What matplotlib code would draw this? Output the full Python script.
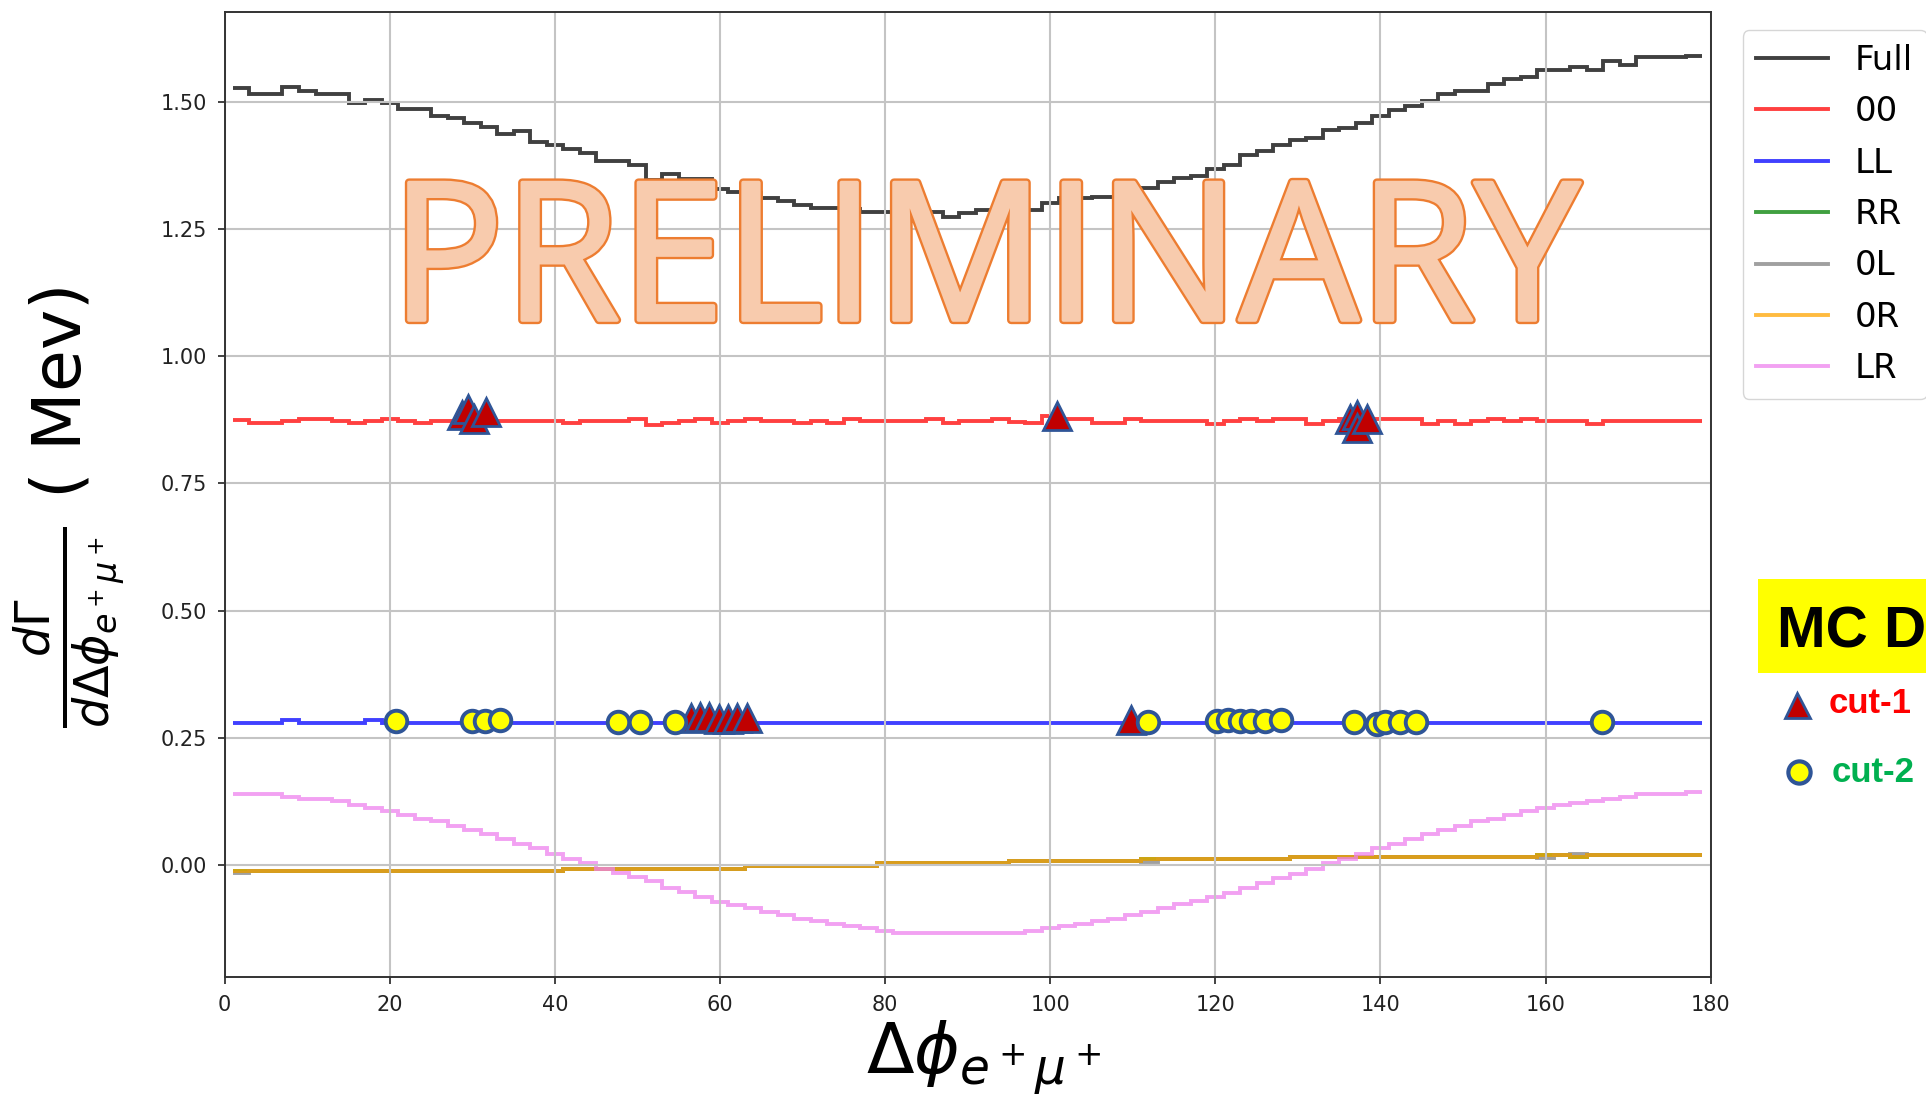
import numpy as np
import matplotlib.pyplot as plt
from matplotlib.lines import Line2D
from matplotlib.patches import PathPatch, Rectangle
from matplotlib.textpath import TextPath
from matplotlib.font_manager import FontProperties
from matplotlib.transforms import Affine2D

# --- histogram contents, one value per 2-degree bin from 1 to 179 ---
full = [1.527, 1.516, 1.516, 1.529, 1.520, 1.516, 1.516, 1.498, 1.503, 1.498,
        1.485, 1.485, 1.471, 1.467, 1.458, 1.450, 1.437, 1.442, 1.421, 1.415,
        1.407, 1.399, 1.384, 1.384, 1.376, 1.347, 1.358, 1.348, 1.348, 1.328,
        1.323, 1.320, 1.310, 1.305, 1.297, 1.292, 1.292, 1.290, 1.284, 1.284,
        1.284, 1.284, 1.283, 1.274, 1.282, 1.288, 1.288, 1.288, 1.288, 1.301,
        1.311, 1.311, 1.313, 1.313, 1.316, 1.330, 1.343, 1.349, 1.354, 1.367,
        1.375, 1.396, 1.403, 1.414, 1.424, 1.429, 1.444, 1.449, 1.459, 1.472,
        1.484, 1.492, 1.502, 1.516, 1.521, 1.521, 1.534, 1.545, 1.549, 1.563,
        1.563, 1.568, 1.563, 1.580, 1.572, 1.587, 1.587, 1.587, 1.590]

g00 = [0.875, 0.869, 0.869, 0.873, 0.877, 0.877, 0.873, 0.869, 0.873, 0.877,
       0.873, 0.869, 0.873, 0.873, 0.873, 0.873, 0.873, 0.873, 0.873, 0.873,
       0.869, 0.873, 0.873, 0.873, 0.877, 0.864, 0.869, 0.873, 0.877, 0.869,
       0.873, 0.877, 0.873, 0.873, 0.869, 0.873, 0.869, 0.877, 0.873, 0.873,
       0.873, 0.873, 0.877, 0.869, 0.873, 0.873, 0.877, 0.870, 0.868, 0.882,
       0.877, 0.877, 0.868, 0.868, 0.877, 0.872, 0.872, 0.872, 0.872, 0.867,
       0.872, 0.877, 0.872, 0.877, 0.877, 0.867, 0.872, 0.877, 0.877, 0.877,
       0.877, 0.877, 0.867, 0.872, 0.867, 0.872, 0.877, 0.872, 0.877, 0.872,
       0.872, 0.872, 0.867, 0.872, 0.872, 0.872, 0.872, 0.872, 0.872]

gLL = [0.278, 0.278, 0.278, 0.284, 0.278, 0.278, 0.278, 0.278, 0.284, 0.278,
       0.278, 0.278, 0.278, 0.278, 0.278, 0.278, 0.278, 0.278, 0.278, 0.278,
       0.278, 0.278, 0.278, 0.278, 0.278, 0.278, 0.278, 0.278, 0.278, 0.278,
       0.278, 0.278, 0.278, 0.278, 0.278, 0.278, 0.278, 0.278, 0.278, 0.278,
       0.278, 0.278, 0.278, 0.278, 0.278, 0.278, 0.278, 0.278, 0.278, 0.278,
       0.278, 0.278, 0.278, 0.278, 0.278, 0.278, 0.278, 0.278, 0.278, 0.278,
       0.278, 0.278, 0.278, 0.278, 0.278, 0.278, 0.278, 0.278, 0.278, 0.278,
       0.278, 0.278, 0.278, 0.278, 0.278, 0.278, 0.278, 0.278, 0.278, 0.278,
       0.278, 0.278, 0.278, 0.278, 0.278, 0.278, 0.278, 0.278, 0.278]

g0R = [-0.011, -0.011, -0.011, -0.011, -0.011, -0.011, -0.011, -0.011, -0.011, -0.011,
       -0.011, -0.011, -0.011, -0.011, -0.011, -0.011, -0.011, -0.011, -0.011, -0.011,
       -0.007, -0.007, -0.007, -0.007, -0.007, -0.007, -0.007, -0.007, -0.007, -0.007,
       -0.007, -0.002, -0.002, -0.002, -0.002, -0.002, -0.002, -0.002, -0.002, 0.003,
       0.003, 0.003, 0.003, 0.003, 0.003, 0.003, 0.003, 0.007, 0.007, 0.007,
       0.007, 0.007, 0.007, 0.007, 0.007, 0.011, 0.011, 0.011, 0.011, 0.011,
       0.011, 0.011, 0.011, 0.011, 0.016, 0.016, 0.016, 0.016, 0.016, 0.016,
       0.016, 0.016, 0.016, 0.016, 0.016, 0.016, 0.016, 0.016, 0.016, 0.020,
       0.020, 0.016, 0.020, 0.020, 0.020, 0.020, 0.020, 0.020, 0.020]

g0L = [-0.015, -0.011, -0.011, -0.011, -0.011, -0.011, -0.011, -0.011, -0.011, -0.011,
       -0.011, -0.011, -0.011, -0.011, -0.011, -0.011, -0.011, -0.011, -0.011, -0.011,
       -0.007, -0.007, -0.007, -0.007, -0.007, -0.007, -0.007, -0.007, -0.007, -0.007,
       -0.007, -0.002, -0.002, -0.002, -0.002, -0.002, -0.002, -0.002, -0.002, 0.003,
       0.003, 0.003, 0.003, 0.003, 0.003, 0.003, 0.003, 0.007, 0.007, 0.007,
       0.007, 0.007, 0.007, 0.007, 0.007, 0.005, 0.011, 0.011, 0.011, 0.011,
       0.011, 0.011, 0.011, 0.011, 0.016, 0.016, 0.016, 0.016, 0.016, 0.016,
       0.016, 0.016, 0.016, 0.016, 0.016, 0.016, 0.016, 0.016, 0.016, 0.014,
       0.020, 0.022, 0.020, 0.020, 0.020, 0.020, 0.020, 0.020, 0.020]

# RR lies exactly under 0L/0R, so it never shows
gRR = list(g0R)

gLR = [0.139, 0.139, 0.139, 0.134, 0.130, 0.130, 0.126, 0.117, 0.112, 0.107,
       0.099, 0.091, 0.086, 0.077, 0.069, 0.061, 0.051, 0.042, 0.034, 0.021,
       0.011, 0.003, -0.007, -0.015, -0.024, -0.032, -0.045, -0.054, -0.063, -0.073,
       -0.078, -0.085, -0.093, -0.099, -0.106, -0.111, -0.116, -0.119, -0.124, -0.130,
       -0.134, -0.134, -0.134, -0.134, -0.134, -0.134, -0.134, -0.134, -0.130, -0.124,
       -0.119, -0.116, -0.111, -0.106, -0.099, -0.093, -0.085, -0.077, -0.071, -0.063,
       -0.055, -0.045, -0.035, -0.025, -0.017, -0.007, 0.003, 0.011, 0.021, 0.034,
       0.042, 0.051, 0.061, 0.069, 0.077, 0.086, 0.091, 0.099, 0.107, 0.112,
       0.117, 0.122, 0.126, 0.130, 0.134, 0.139, 0.139, 0.139, 0.143]

labels = ['Full', '00', 'LL', 'RR', '0L', '0R', 'LR']
colors = ['black', 'red', 'blue', 'green', 'gray', 'orange', 'violet']

# MC points
cut1_x = [28.7, 29.5, 30.2, 31.7, 100.8, 136.3, 137.2, 137.2, 138.4,
          56.5, 57.6, 58.7, 59.9, 61.0, 62.0, 63.3, 109.8]
cut1_y = [0.885, 0.896, 0.877, 0.890, 0.883, 0.877, 0.884, 0.858, 0.877,
          0.289, 0.290, 0.290, 0.286, 0.287, 0.288, 0.288, 0.284]
cut2_x = [20.8, 30.0, 31.5, 33.3, 47.6, 50.3, 54.6, 111.8, 120.2, 121.5,
          123.0, 124.3, 126.0, 128.0, 136.8, 139.6, 140.6, 142.4, 144.3, 166.8]
cut2_y = [0.283, 0.283, 0.283, 0.284, 0.280, 0.280, 0.280, 0.280, 0.283, 0.285,
          0.283, 0.283, 0.282, 0.284, 0.281, 0.277, 0.280, 0.280, 0.280, 0.281]

W, H = 1926, 1096
fig = plt.figure(figsize=(W / 100, H / 100), dpi=100)
ax = fig.add_axes([224.7 / W, 1 - 977 / H, 1486 / W, 965 / H])

series = [full, g00, gLL, gRR, g0L, g0R, gLR]
for vals, lab, col in zip(series, labels, colors):
    edges = 1 + 2 * np.arange(len(vals) + 1)
    ax.stairs(vals, edges, baseline=None, color=col, alpha=0.75, lw=2.8, label=lab)

ax.plot(cut1_x, cut1_y, ls='none', marker='^', ms=20, mfc='#c00000', mec='#2f5597', mew=2, zorder=6)
ax.plot(cut2_x, cut2_y, ls='none', marker='o', ms=15.5, mfc='yellow', mec='#2f5597', mew=2.8, zorder=6)

ax.set_xlim(0, 180)
ax.set_xticks(np.arange(0, 181, 20))
ax.set_yticks([0.0, 0.25, 0.5, 0.75, 1.0, 1.25, 1.5])
ax.grid(True, color='#c4c4c4', lw=1.5)
ax.tick_params(labelsize=15, length=5, width=1.2, pad=8, colors='#222222')
for s in ax.spines.values():
    s.set_linewidth(1.4)
    s.set_color('#333333')

ax.set_ylabel(r'$\frac{d\Gamma}{d\Delta\phi_{e^+\mu^+}}$ ( Mev)', fontsize=49)
ax.yaxis.set_label_coords(-0.0656, 0.486)
ax.set_xlabel(r'$\Delta\phi_{e^+\mu^+}$', fontsize=50)
ax.xaxis.set_label_coords(0.511, -0.043)

ax.legend(loc='upper left', bbox_to_anchor=(1.0215, 0.981), borderaxespad=0,
          fontsize=24.5, handlelength=2.1, labelspacing=0.54)

# PRELIMINARY watermark, stretched into its box; drawn twice to get the heavy letters
tp = TextPath((0, 0), 'PRELIMINARY', size=100, prop=FontProperties(family='Open Sans'))
ext = tp.get_extents()
x0, x1 = 409 / W, 1580 / W
y0, y1 = 1 - 320 / H, 1 - 182 / H
tr = Affine2D().translate(-ext.x0, -ext.y0).scale((x1 - x0) / ext.width, (y1 - y0) / ext.height).translate(x0, y0)
wm = tr.transform_path(tp)
fig.add_artist(PathPatch(wm, transform=fig.transFigure, fc='#f8cbad',
                         ec='#ed7d31', lw=6, joinstyle='round', zorder=5))
fig.add_artist(PathPatch(wm, transform=fig.transFigure, fc='#f8cbad',
                         ec='#f8cbad', lw=2.6, joinstyle='round', zorder=5.1))

# MC Data annotation on the right (cut by the slide edge, as in the original)
fig.add_artist(Rectangle((1758 / W, 1 - 673 / H), 0.1, 94 / H, transform=fig.transFigure,
                         fc='yellow', ec='none', zorder=5))
fig.text(1777 / W, 1 - 647 / H, 'MC Data', fontsize=42, fontweight='bold',
         family=['Liberation Sans', 'DejaVu Sans'], zorder=6)
fig.add_artist(Line2D([1797 / W], [1 - 705 / H], transform=fig.transFigure, marker='^', ms=18,
                      mfc='#c00000', mec='#2f5597', mew=2, ls='none'))
fig.add_artist(Line2D([1799 / W], [1 - 772 / H], transform=fig.transFigure, marker='o', ms=16,
                      mfc='yellow', mec='#2f5597', mew=3, ls='none'))
fig.text(1829 / W, 1 - 713 / H, 'cut-1', fontsize=25, fontweight='bold', color='#ff0000',
         family=['Liberation Sans', 'DejaVu Sans'])
fig.text(1832 / W, 1 - 782 / H, 'cut-2', fontsize=25, fontweight='bold', color='#00b050',
         family=['Liberation Sans', 'DejaVu Sans'])

fig.savefig('out.png', dpi=100)
